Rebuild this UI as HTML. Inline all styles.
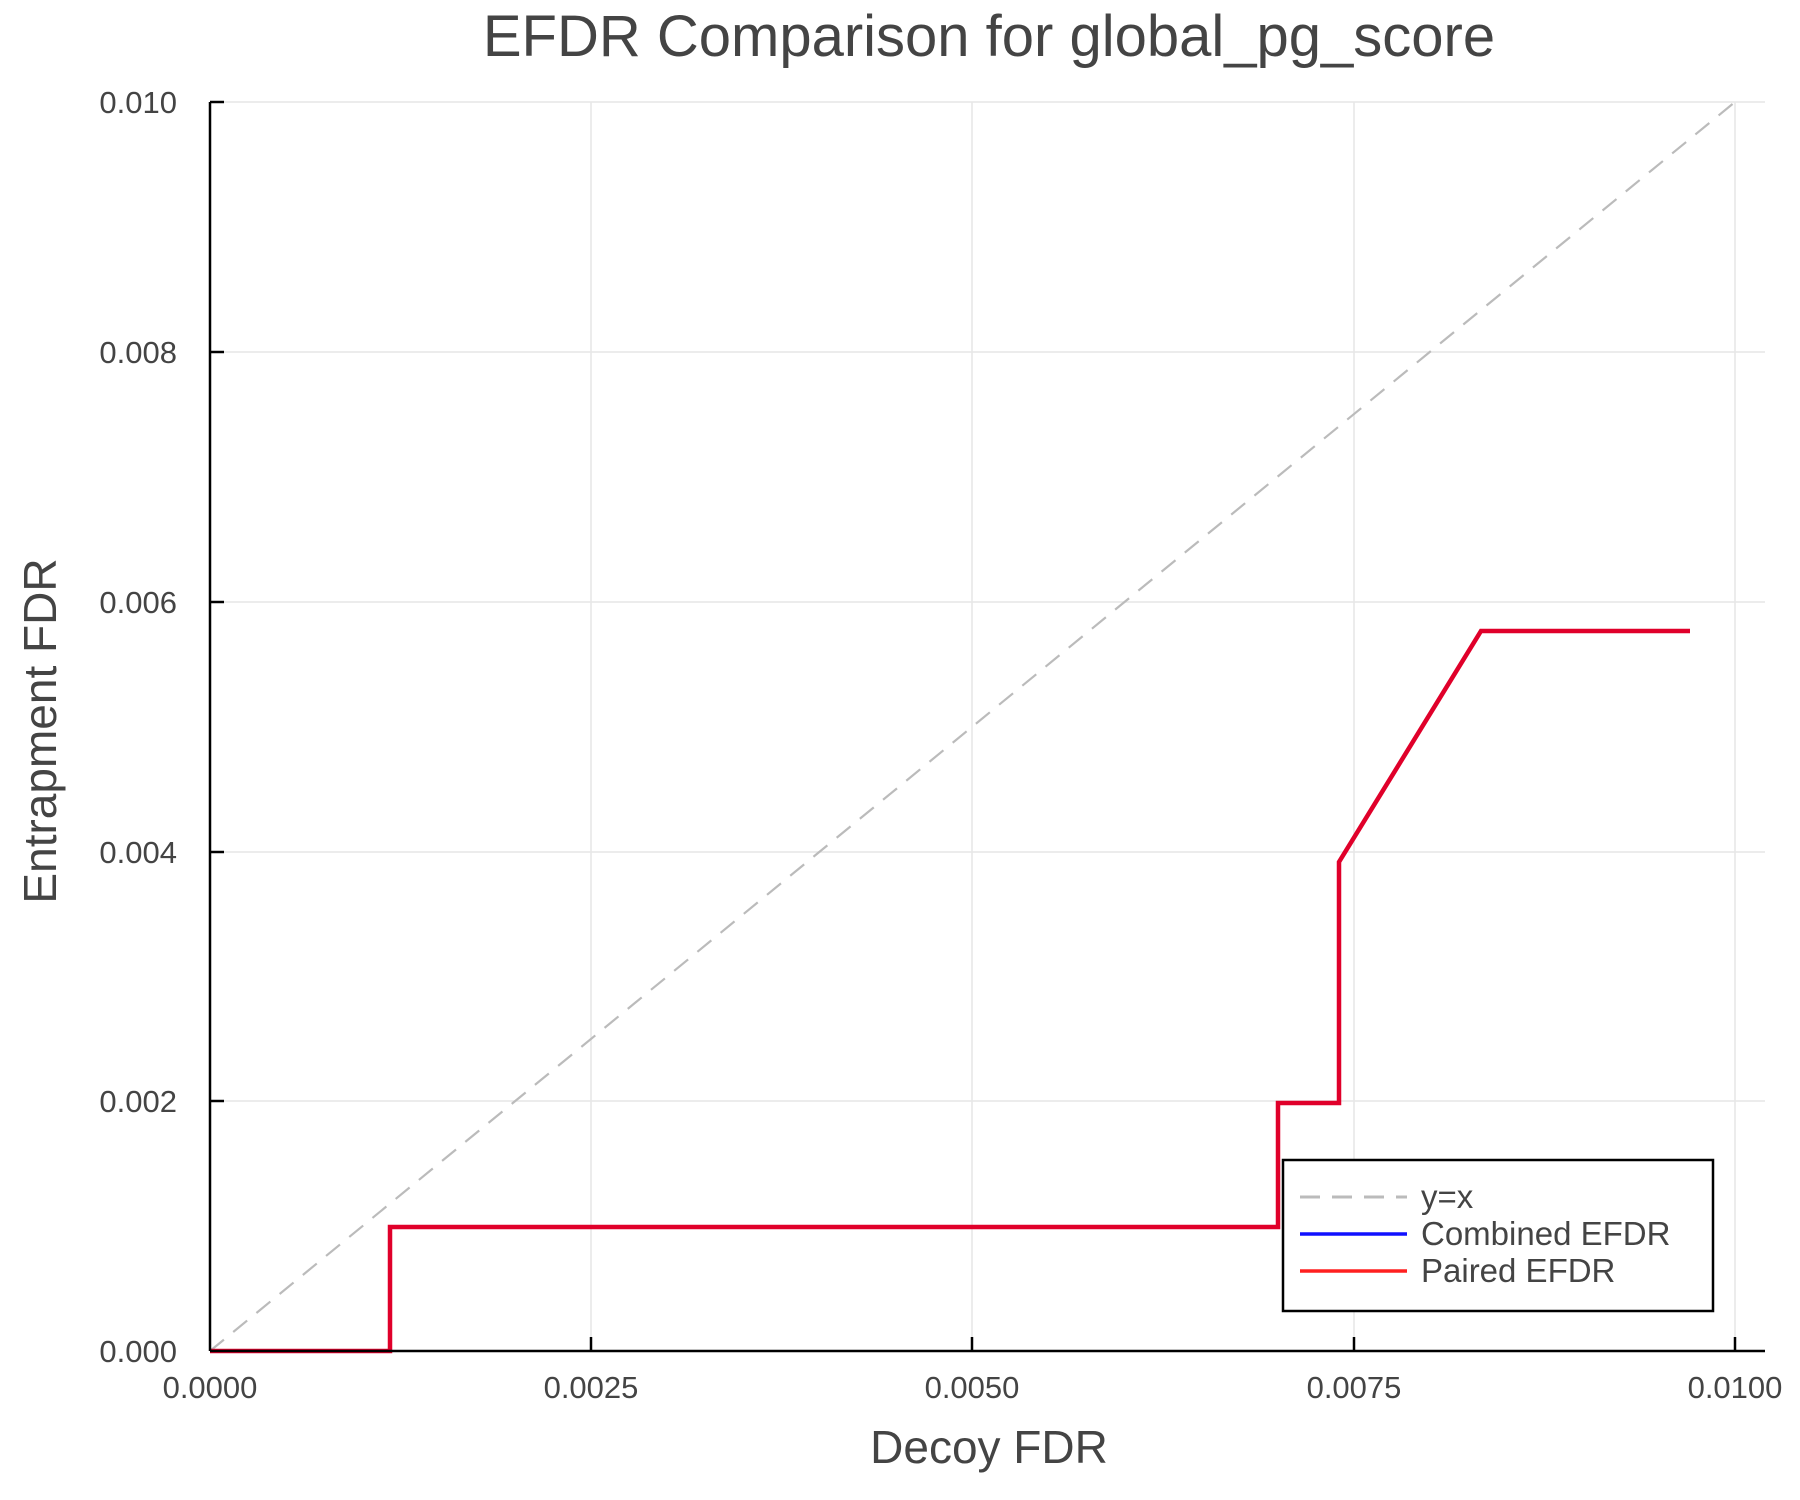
<!DOCTYPE html>
<html><head><meta charset="utf-8"><style>body{margin:0;background:#fff}svg{display:block}text{font-family:"Liberation Sans",sans-serif;fill:#444}</style></head>
<body>
<svg width="1800" height="1500" viewBox="0 0 1800 1500" xmlns="http://www.w3.org/2000/svg">
<rect width="1800" height="1500" fill="#fff"/>
<g stroke="#e6e6e6" stroke-width="1.5">
<line x1="591" y1="102" x2="591" y2="1351"/><line x1="972" y1="102" x2="972" y2="1351"/><line x1="1354" y1="102" x2="1354" y2="1351"/><line x1="1735" y1="102" x2="1735" y2="1351"/>
<line x1="210" y1="1101" x2="1765" y2="1101"/><line x1="210" y1="852" x2="1765" y2="852"/><line x1="210" y1="602" x2="1765" y2="602"/><line x1="210" y1="352" x2="1765" y2="352"/><line x1="210" y1="102" x2="1765" y2="102"/>
</g>
<line x1="210" y1="1351" x2="1735" y2="102" stroke="#bbb" stroke-width="2.2" stroke-dasharray="18,12"/>
<polyline fill="none" stroke="#e0002a" stroke-width="4.5" stroke-linejoin="miter" points="210,1351 390,1351 390,1227 1278,1227 1278,1103 1339,1103 1339,862 1481,631 1690,631"/>
<g stroke="#000" stroke-width="2.5">
<line x1="210" y1="102" x2="210" y2="1351"/><line x1="210" y1="1351" x2="1765" y2="1351"/>
<line x1="591" y1="1351" x2="591" y2="1337"/><line x1="972" y1="1351" x2="972" y2="1337"/><line x1="1354" y1="1351" x2="1354" y2="1337"/><line x1="1735" y1="1351" x2="1735" y2="1337"/>
<line x1="210" y1="1101" x2="224" y2="1101"/><line x1="210" y1="852" x2="224" y2="852"/><line x1="210" y1="602" x2="224" y2="602"/><line x1="210" y1="352" x2="224" y2="352"/><line x1="210" y1="102" x2="224" y2="102"/>
</g>
<g font-size="31" text-anchor="middle">
<text x="210" y="1398">0.0000</text><text x="591" y="1398">0.0025</text><text x="972" y="1398">0.0050</text><text x="1354" y="1398">0.0075</text><text x="1735" y="1398">0.0100</text>
</g>
<g font-size="31" text-anchor="end">
<text x="177" y="1362">0.000</text><text x="177" y="1112">0.002</text><text x="177" y="863">0.004</text><text x="177" y="613">0.006</text><text x="177" y="363">0.008</text><text x="177" y="113">0.010</text>
</g>
<text x="989" y="56" font-size="58" text-anchor="middle">EFDR Comparison for global_pg_score</text>
<text x="989" y="1463" font-size="46" text-anchor="middle">Decoy FDR</text>
<text transform="translate(56,731) rotate(-90)" font-size="46" text-anchor="middle">Entrapment FDR</text>
<rect x="1283" y="1160" width="430" height="151" fill="#fff" stroke="#000" stroke-width="2.5"/>
<line x1="1300" y1="1197" x2="1407" y2="1197" stroke="#bbb" stroke-width="3" stroke-dasharray="20,12"/>
<line x1="1300" y1="1234" x2="1407" y2="1234" stroke="#1010ff" stroke-width="3.5"/>
<line x1="1300" y1="1271" x2="1407" y2="1271" stroke="#ff2020" stroke-width="3.5"/>
<g font-size="33"><text x="1421" y="1208">y=x</text><text x="1421" y="1245">Combined EFDR</text><text x="1421" y="1282">Paired EFDR</text></g>
</svg>
</body></html>
